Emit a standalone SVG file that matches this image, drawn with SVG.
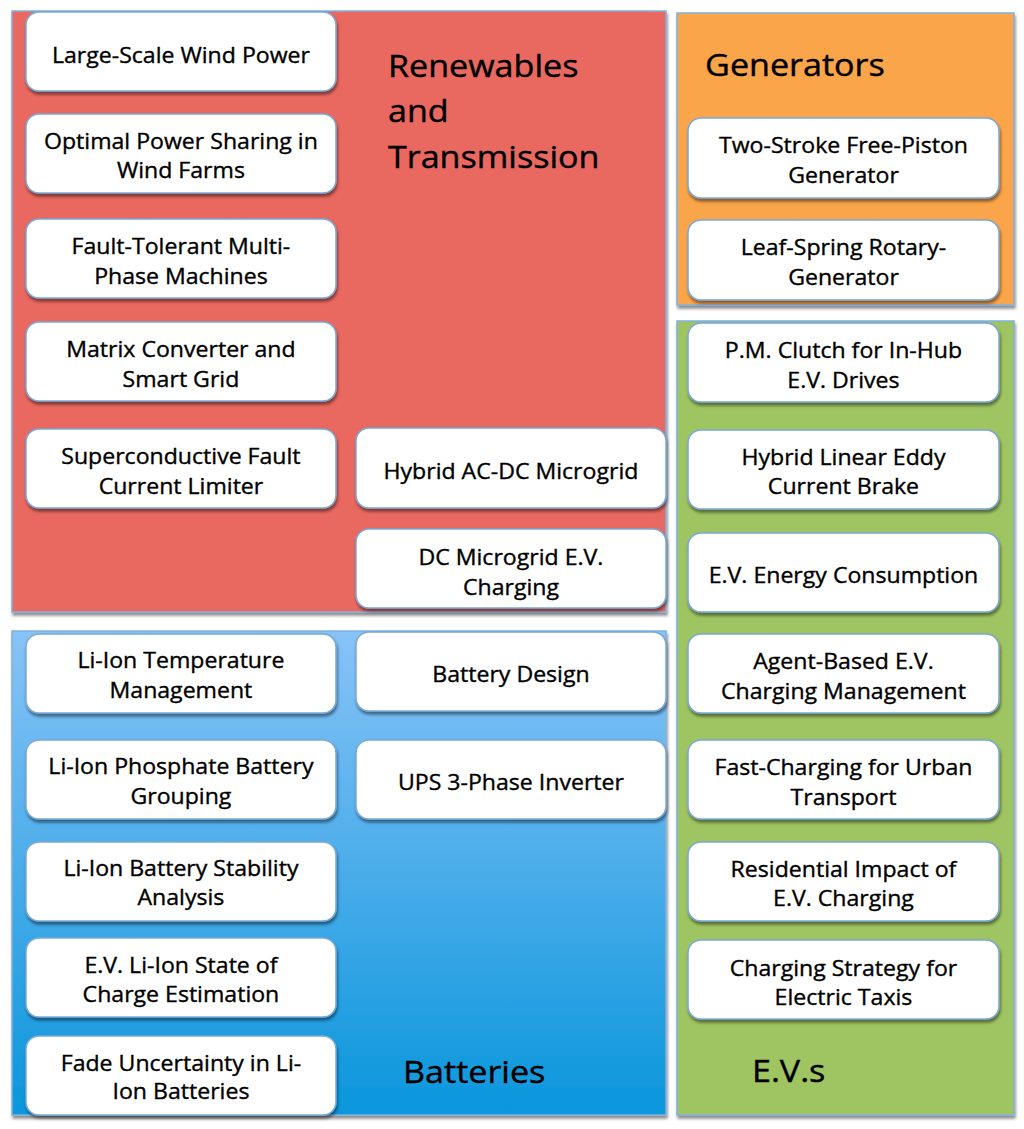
<svg xmlns="http://www.w3.org/2000/svg" width="1024" height="1129" viewBox="0 0 1024 1129">
<defs>
<linearGradient id="blueGrad" x1="0" y1="0" x2="0" y2="1">
<stop offset="0" stop-color="#88c3f7"/>
<stop offset="1" stop-color="#0a96dc"/>
</linearGradient>
<filter id="shadow" x="-5%" y="-5%" width="115%" height="120%">
<feGaussianBlur in="SourceAlpha" stdDeviation="1.5"/>
<feOffset dx="1" dy="2.5" result="b"/>
<feComponentTransfer><feFuncA type="linear" slope="0.45"/></feComponentTransfer>
<feMerge><feMergeNode/><feMergeNode in="SourceGraphic"/></feMerge>
</filter>
</defs>
<style>
.region{stroke:#7fb0de;stroke-width:1.5;filter:url(#shadow)}
.node{fill:#ffffff;stroke:#7aa9d6;stroke-width:1.5;filter:url(#shadow)}
.t{font-family:"Open Sans","Liberation Sans",sans-serif;font-size:21px;fill:#000;stroke:#000;stroke-width:0.35;text-anchor:middle}
.title{font-family:"Open Sans","Liberation Sans",sans-serif;font-size:31px;fill:#000;stroke:#000;stroke-width:0.4}
</style>
<rect width="1024" height="1129" fill="#ffffff"/>
<g id="regions">
<rect id="region-renewables" class="region" x="12" y="11" width="654" height="601" fill="#e96760"/>
<rect id="region-generators" class="region" x="677" y="13" width="337" height="292" fill="#fba54b"/>
<rect id="region-evs" class="region" x="677" y="321" width="337" height="794" fill="#9fc462"/>
<rect id="region-batteries" class="region" x="12" y="631" width="654" height="484" fill="url(#blueGrad)"/>
</g>
<g id="connectors"></g>
<g id="nodes">
<g id="n-wind"><rect class="node" x="26" y="12" width="310" height="79" rx="13"/></g>
<g id="n-sharing"><rect class="node" x="26" y="114" width="310" height="79" rx="13"/></g>
<g id="n-fault"><rect class="node" x="26" y="219" width="310" height="79" rx="13"/></g>
<g id="n-matrix"><rect class="node" x="26" y="322" width="310" height="79" rx="13"/></g>
<g id="n-super"><rect class="node" x="26" y="429" width="310" height="79" rx="13"/></g>
<g id="n-hybridac"><rect class="node" x="356" y="428" width="310" height="80" rx="13"/></g>
<g id="n-dcmicro"><rect class="node" x="356" y="529" width="310" height="79" rx="13"/></g>
<g id="n-battdesign"><rect class="node" x="356" y="632" width="310" height="79" rx="13"/></g>
<g id="n-ups"><rect class="node" x="356" y="740" width="310" height="79" rx="13"/></g>
<g id="n-litemp"><rect class="node" x="26" y="634" width="310" height="79" rx="13"/></g>
<g id="n-liphos"><rect class="node" x="26" y="740" width="310" height="79" rx="13"/></g>
<g id="n-listab"><rect class="node" x="26" y="842" width="310" height="79" rx="13"/></g>
<g id="n-soc"><rect class="node" x="26" y="938" width="310" height="79" rx="13"/></g>
<g id="n-fade"><rect class="node" x="26" y="1036" width="310" height="79" rx="13"/></g>
<g id="n-twostroke"><rect class="node" x="688" y="118" width="311" height="80" rx="13"/></g>
<g id="n-leaf"><rect class="node" x="688" y="220" width="311" height="80" rx="13"/></g>
<g id="n-clutch"><rect class="node" x="688" y="323" width="311" height="79" rx="13"/></g>
<g id="n-eddy"><rect class="node" x="688" y="430" width="311" height="79" rx="13"/></g>
<g id="n-energy"><rect class="node" x="688" y="533" width="311" height="79" rx="13"/></g>
<g id="n-agent"><rect class="node" x="688" y="634" width="311" height="79" rx="13"/></g>
<g id="n-fast"><rect class="node" x="688" y="740" width="311" height="79" rx="13"/></g>
<g id="n-resid"><rect class="node" x="688" y="842" width="311" height="79" rx="13"/></g>
<g id="n-taxi"><rect class="node" x="688" y="940" width="311" height="79" rx="13"/></g>
</g>
<g id="labels" transform="scale(1.1,1)">
<text class="t" x="164.5" y="63">Large-Scale Wind Power</text>
<text class="t" x="164.5" y="149">Optimal Power Sharing in</text>
<text class="t" x="164.5" y="178">Wind Farms</text>
<text class="t" x="164.5" y="254">Fault-Tolerant Multi-</text>
<text class="t" x="164.5" y="284">Phase Machines</text>
<text class="t" x="164.5" y="357">Matrix Converter and</text>
<text class="t" x="164.5" y="387">Smart Grid</text>
<text class="t" x="164.5" y="464">Superconductive Fault</text>
<text class="t" x="164.5" y="494">Current Limiter</text>
<text class="t" x="464.5" y="479">Hybrid AC-DC Microgrid</text>
<text class="t" x="464.5" y="565">DC Microgrid E.V.</text>
<text class="t" x="464.5" y="595">Charging</text>
<text class="t" x="464.5" y="682">Battery Design</text>
<text class="t" x="464.5" y="790">UPS 3-Phase Inverter</text>
<text class="t" x="164.5" y="668">Li-Ion Temperature</text>
<text class="t" x="164.5" y="698">Management</text>
<text class="t" x="164.5" y="774">Li-Ion Phosphate Battery</text>
<text class="t" x="164.5" y="804">Grouping</text>
<text class="t" x="164.5" y="876">Li-Ion Battery Stability</text>
<text class="t" x="164.5" y="905">Analysis</text>
<text class="t" x="164.5" y="973">E.V. Li-Ion State of</text>
<text class="t" x="164.5" y="1002">Charge Estimation</text>
<text class="t" x="164.5" y="1071">Fade Uncertainty in Li-</text>
<text class="t" x="164.5" y="1099">Ion Batteries</text>
<text class="t" x="766.8" y="153">Two-Stroke Free-Piston</text>
<text class="t" x="766.8" y="183">Generator</text>
<text class="t" x="766.8" y="255">Leaf-Spring Rotary-</text>
<text class="t" x="766.8" y="285">Generator</text>
<text class="t" x="766.8" y="358">P.M. Clutch for In-Hub</text>
<text class="t" x="766.8" y="388">E.V. Drives</text>
<text class="t" x="766.8" y="465">Hybrid Linear Eddy</text>
<text class="t" x="766.8" y="494">Current Brake</text>
<text class="t" x="766.8" y="583">E.V. Energy Consumption</text>
<text class="t" x="766.8" y="669">Agent-Based E.V.</text>
<text class="t" x="766.8" y="699">Charging Management</text>
<text class="t" x="766.8" y="775">Fast-Charging for Urban</text>
<text class="t" x="766.8" y="805">Transport</text>
<text class="t" x="766.8" y="877">Residential Impact of</text>
<text class="t" x="766.8" y="906">E.V. Charging</text>
<text class="t" x="766.8" y="976">Charging Strategy for</text>
<text class="t" x="766.8" y="1005">Electric Taxis</text>
<text class="title" x="352.7" y="77">Renewables</text>
<text class="title" x="352.7" y="122">and</text>
<text class="title" x="352.7" y="168">Transmission</text>
<text class="title" x="641" y="76">Generators</text>
<text class="title" x="366.4" y="1083">Batteries</text>
<text class="title" x="683.6" y="1082">E.V.s</text>
</g>
</svg>
